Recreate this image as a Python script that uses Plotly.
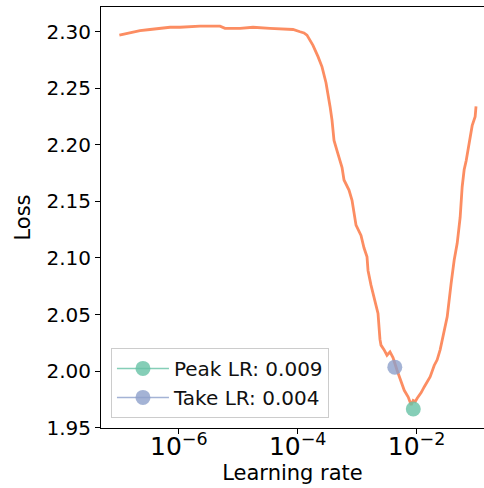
import plotly.graph_objects as go

# Learning-rate finder curve
log_lr = [-7.0, -6.821, -6.653, -6.484, -6.316, -6.148, -5.980, -5.643, -5.307, -5.223,
          -4.970, -4.752, -4.466, -4.213, -4.079, -3.961, -3.894, -3.844, -3.743, -3.658,
          -3.591, -3.524, -3.490, -3.456, -3.423, -3.389, -3.339, -3.288, -3.254, -3.221,
          -3.137, -3.086, -3.019, -2.935, -2.885, -2.834, -2.817, -2.767, -2.700, -2.649,
          -2.616, -2.599, -2.548, -2.498, -2.447, -2.397, -2.330, -2.275, -2.208, -2.141,
          -2.091, -2.057, -2.023, -1.990, -1.923, -1.872, -1.822, -1.771, -1.704, -1.654,
          -1.603, -1.536, -1.502, -1.485, -1.418, -1.368, -1.317, -1.267, -1.233, -1.200,
          -1.166, -1.149, -1.099, -1.065, -1.015, -1.0]
loss = [2.297, 2.299, 2.301, 2.302, 2.303, 2.304, 2.304, 2.305, 2.305, 2.303,
        2.303, 2.304, 2.303, 2.302, 2.302, 2.300, 2.299, 2.297, 2.288, 2.278,
        2.269, 2.255, 2.246, 2.234, 2.222, 2.204, 2.195, 2.187, 2.180, 2.169,
        2.160, 2.151, 2.129, 2.120, 2.109, 2.101, 2.089, 2.076, 2.063, 2.051,
        2.028, 2.023, 2.019, 2.014, 2.017, 2.012, 2.001, 1.992, 1.983, 1.977,
        1.970, 1.974, 1.973, 1.976, 1.981, 1.986, 1.990, 1.995, 2.005, 2.010,
        2.019, 2.036, 2.045, 2.048, 2.078, 2.098, 2.113, 2.136, 2.163, 2.178,
        2.186, 2.191, 2.204, 2.217, 2.225, 2.234]
lrs = [10 ** v for v in log_lr]

peak_lr = [0.0088]
peak_loss = [1.9665]
take_lr = [0.0043]
take_loss = [2.0035]
peak_label = "Peak LR: 0.009"
take_label = "Take LR: 0.004"

FONT = "DejaVu Sans"

fig = go.Figure()
fig.add_trace(go.Scatter(x=lrs, y=loss, mode="lines",
                         line=dict(color="#fc8d62", width=2.8),
                         showlegend=False, hoverinfo="skip"))
fig.add_trace(go.Scatter(x=peak_lr, y=peak_loss, mode="lines+markers", name=peak_label,
                         line=dict(color="rgba(102,194,165,0.8)", width=1.5),
                         marker=dict(color="rgba(102,194,165,0.8)", size=15)))
fig.add_trace(go.Scatter(x=take_lr, y=take_loss, mode="lines+markers", name=take_label,
                         line=dict(color="rgba(141,160,203,0.8)", width=1.5),
                         marker=dict(color="rgba(141,160,203,0.8)", size=15)))

fig.update_layout(
    width=484, height=488,
    margin=dict(l=101, r=0, t=7, b=60, autoexpand=False),
    paper_bgcolor="white", plot_bgcolor="white",
    font=dict(family=FONT, size=20, color="black"),
    legend=dict(x=0.026, y=0.024, xanchor="left", yanchor="bottom",
                bgcolor="rgba(255,255,255,0.8)", bordercolor="#cccccc", borderwidth=1,
                font=dict(family=FONT, size=20, color="#111111"),
                tracegroupgap=0, itemwidth=52),
)
fig.update_xaxes(type="log", range=[-7.309, -0.866], dtick=2, exponentformat="power",
                 showgrid=False, zeroline=False, automargin=False,
                 showline=True, linecolor="black", linewidth=1.1, mirror=True,
                 ticks="outside", ticklen=5, tickwidth=1.1, tickcolor="black",
                 ticklabelstandoff=-8,
                 tickfont=dict(family=FONT, size=20),
                 title=dict(text="Learning rate", font=dict(family=FONT, size=21), standoff=4))
fig.update_yaxes(range=[1.9497, 2.3219], tickvals=[1.95, 2.0, 2.05, 2.1, 2.15, 2.2, 2.25, 2.3],
                 ticktext=["1.95", "2.00", "2.05", "2.10", "2.15", "2.20", "2.25", "2.30"],
                 showgrid=False, zeroline=False, automargin=False,
                 showline=True, linecolor="black", linewidth=1.1, mirror=False,
                 ticks="outside", ticklen=5, tickwidth=1.1, tickcolor="black",
                 tickfont=dict(family=FONT, size=20),
                 title=dict(text="Loss", font=dict(family=FONT, size=21), standoff=10))

fig.write_html("out.html", config={"displayModeBar": False},
               post_script="document.body.style.margin='0';")
